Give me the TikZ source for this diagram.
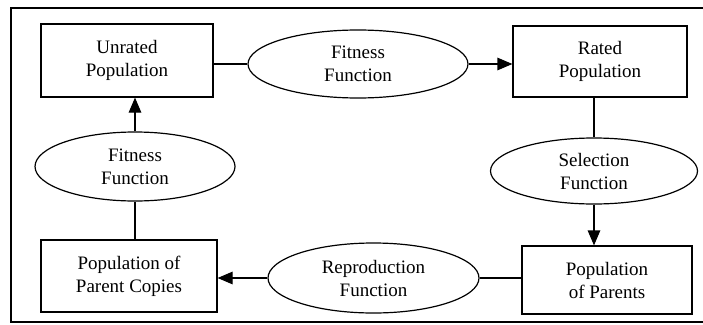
\documentclass[tikz,border=0pt]{standalone}
\usepackage{fontspec}
\setmainfont{Liberation Serif}
\usetikzlibrary{shapes.geometric,arrows.meta}
\begin{document}
\begin{tikzpicture}[x=1pt,y=-1pt,
  every node/.style={font=\fontsize{19}{23}\selectfont, align=center, inner sep=0pt},
  popbox/.style={draw, line width=1.2pt, rectangle},
  funcell/.style={draw, line width=1.2pt, ellipse},
  conn/.style={line width=1.2pt},
  arr/.style={line width=1.2pt, -{Triangle[length=15pt,width=12.5pt]}},
  frameline/.style={line width=1.4pt}]
\useasboundingbox (0,0) rectangle (703,324);
% frame (open on the right)
\coordinate (fTR) at (703,8);
\coordinate (fTL) at (11,8);
\coordinate (fBL) at (11,322);
\coordinate (fBR) at (703,322);
\draw[frameline] (fTR) -- (fTL) -- (fBL) -- (fBR);
% populations
\node[popbox, minimum width=172pt, minimum height=73pt] (unrated) at (127,60.5) {Unrated\\Population};
\node[popbox, minimum width=174pt, minimum height=71pt] (rated) at (600,61.5) {Rated\\Population};
\node[popbox, minimum width=170pt, minimum height=68pt] (parents) at (607,280) {Population\\of Parents};
\node[popbox, minimum width=176pt, minimum height=72pt] (copies) at (129,276) {Population of\\Parent Copies};
% functions
\node[funcell, minimum width=220pt, minimum height=68pt] (fitTop) at (358,64) {Fitness\\Function};
\node[funcell, minimum width=207pt, minimum height=66pt] (sel) at (594,171) {Selection\\Function};
\node[funcell, minimum width=211pt, minimum height=70pt] (repro) at (373.5,278) {Reproduction\\Function};
\node[funcell, minimum width=200pt, minimum height=69pt] (fitLeft) at (135,166.5) {Fitness\\Function};
% connectors
\draw[conn] (unrated.east |- fitTop.west) -- (fitTop.west);
\draw[arr] (fitTop.east) -- (fitTop.east -| rated.west);
\draw[conn] (rated.south -| sel.north) -- (sel.north);
\draw[arr] (sel.south) -- (sel.south |- parents.north);
\draw[conn] (parents.west |- repro.east) -- (repro.east);
\draw[arr] (repro.west) -- (repro.west -| copies.east);
\draw[conn] (copies.north -| fitLeft.south) -- (fitLeft.south);
\draw[arr] (fitLeft.north) -- (fitLeft.north |- unrated.south);
\end{tikzpicture}
\end{document}
